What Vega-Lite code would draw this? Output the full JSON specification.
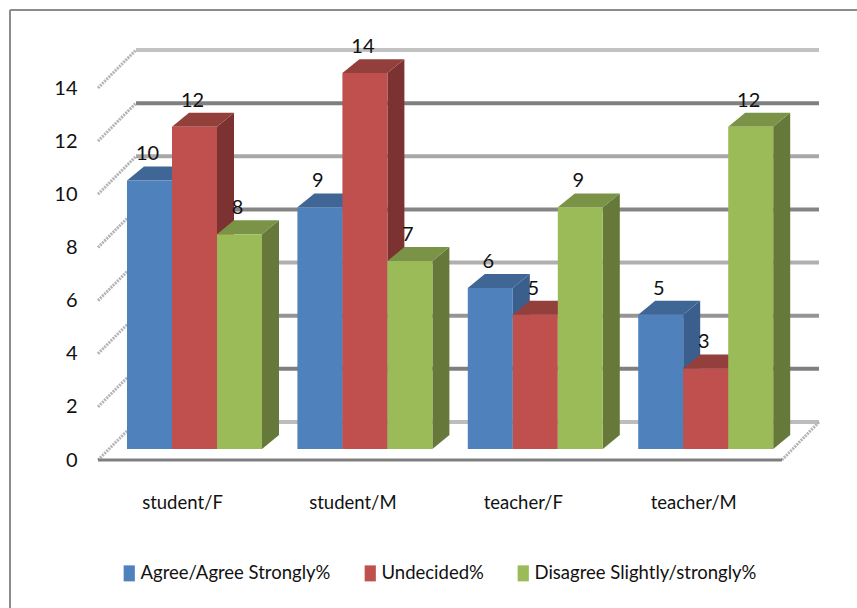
{
"$schema":"https://vega.github.io/schema/vega-lite/v6.json",
"width":847,"height":598,"autosize":"none",
"padding":{"left":10,"top":10,"right":0,"bottom":0},
"background":"white",
"config":{"view":{"stroke":null},"font":"Lato","text":{"font":"Lato"}},
"datasets":{
"bars":[
{"category":"student/F","series":"Agree/Agree Strongly%","value":10},
{"category":"student/F","series":"Undecided%","value":12},
{"category":"student/F","series":"Disagree Slightly/strongly%","value":8},
{"category":"student/M","series":"Agree/Agree Strongly%","value":9},
{"category":"student/M","series":"Undecided%","value":14},
{"category":"student/M","series":"Disagree Slightly/strongly%","value":7},
{"category":"teacher/F","series":"Agree/Agree Strongly%","value":6},
{"category":"teacher/F","series":"Undecided%","value":5},
{"category":"teacher/F","series":"Disagree Slightly/strongly%","value":9},
{"category":"teacher/M","series":"Agree/Agree Strongly%","value":5},
{"category":"teacher/M","series":"Undecided%","value":3},
{"category":"teacher/M","series":"Disagree Slightly/strongly%","value":12}
],
"levels":[{"v":0},{"v":2},{"v":4},{"v":6},{"v":8},{"v":10},{"v":12},{"v":14}]
},
"resolve":{"scale":{"y":"independent","color":"independent"},"axis":{"y":"independent"}},
"layer":[
{"data":{"name":"levels"},
 "transform":[{"calculate":"datum.v+1.43","as":"yb"},{"calculate":"136","as":"x0"},{"calculate":"819","as":"x1"}],
 "mark":{"type":"rule","strokeWidth":4},
 "encoding":{
  "x":{"field":"x0","type":"quantitative","scale":{"domain":[10,857],"nice":false,"zero":false},"axis":null},
  "x2":{"field":"x1"},
  "y":{"field":"yb","type":"quantitative","scale":{"domain":[-5.57,16.936],"nice":false,"zero":false},"axis":null},
  "color":{"field":"v","type":"ordinal","legend":null,"scale":{"domain":[0,2,4,6,8,10,12,14],"range":["#bdbdbd","#7f7f7f","#959595","#b0b0b0","#858585","#a8a8a8","#7f7f7f","#c2c2c2"]}}
 }},
{"data":{"name":"levels"},
 "mark":{"type":"text","opacity":0},
 "encoding":{
  "x":{"datum":10,"type":"quantitative","scale":{"domain":[10,857],"nice":false,"zero":false},"axis":null},
  "y":{"field":"v","type":"quantitative","scale":{"domain":[-5.57,16.936],"nice":false,"zero":false},
   "axis":{"orient":"left","offset":-67,"values":[0,2,4,6,8,10,12,14],"domain":false,"ticks":false,"grid":false,"title":null,"labelFont":"Lato","labelFontSize":20,"labelColor":"#111111","labelPadding":0}},
  "text":{"value":""}
 }},
{"data":{"name":"levels"},
 "transform":[{"calculate":"[0,1]","as":"t"},{"flatten":["t"]},{"calculate":"98+38*datum.t","as":"xd"},{"calculate":"datum.v+1.43*datum.t","as":"yd"}],
 "mark":{"type":"line","stroke":"#b4b4b4","strokeWidth":3,"strokeDash":[2,1]},
 "encoding":{
  "x":{"field":"xd","type":"quantitative","scale":{"domain":[10,857],"nice":false,"zero":false},"axis":null},
  "y":{"field":"yd","type":"quantitative","scale":{"domain":[-5.57,16.936],"nice":false,"zero":false},"axis":null},
  "detail":{"field":"v"}
 }},
{"data":{"name":"levels"},
 "transform":[{"filter":"datum.v==0"},{"calculate":"[0,1]","as":"t"},{"flatten":["t"]},{"calculate":"782+37*datum.t","as":"xd"},{"calculate":"1.43*datum.t","as":"yd"}],
 "mark":{"type":"line","stroke":"#b4b4b4","strokeWidth":3,"strokeDash":[2,1]},
 "encoding":{
  "x":{"field":"xd","type":"quantitative","scale":{"domain":[10,857],"nice":false,"zero":false},"axis":null},
  "y":{"field":"yd","type":"quantitative","scale":{"domain":[-5.57,16.936],"nice":false,"zero":false},"axis":null}
 }},
{"data":{"name":"levels"},
 "transform":[{"filter":"datum.v==0"},{"calculate":"98","as":"x0"},{"calculate":"782","as":"x1"}],
 "mark":{"type":"rule","stroke":"#7f7f7f","strokeWidth":3},
 "encoding":{
  "x":{"field":"x0","type":"quantitative","scale":{"domain":[10,857],"nice":false,"zero":false},"axis":null},
  "x2":{"field":"x1"},
  "y":{"field":"v","type":"quantitative","scale":{"domain":[-5.57,16.936],"nice":false,"zero":false},"axis":null}
 }},
{"data":{"name":"levels"},
 "transform":[{"filter":"datum.v==0"},{"calculate":"10","as":"x0"}],
 "mark":{"type":"rule","stroke":"#8c8c8c","strokeWidth":2},
 "encoding":{
  "x":{"field":"x0","type":"quantitative","scale":{"domain":[10,857],"nice":false,"zero":false},"axis":null}
 }},
{"data":{"name":"levels"},
 "transform":[{"filter":"datum.v==0"},{"calculate":"16.936","as":"yt"}],
 "mark":{"type":"rule","stroke":"#8c8c8c","strokeWidth":2},
 "encoding":{
  "y":{"field":"yt","type":"quantitative","scale":{"domain":[-5.57,16.936],"nice":false,"zero":false},"axis":null}
 }},
{"data":{"name":"bars"},
 "transform":[
  {"calculate":"indexof(['student/F','student/M','teacher/F','teacher/M'],datum.category)","as":"i"},
  {"calculate":"indexof(['Agree/Agree Strongly%','Undecided%','Disagree Slightly/strongly%'],datum.series)","as":"s"},
  {"calculate":"127+170.4*datum.i+45*(datum.s+1)","as":"xr"},
  {"calculate":"[0,1]","as":"t"},{"flatten":["t"]},
  {"calculate":"datum.xr+17*datum.t","as":"xs"},
  {"calculate":"datum.value+0.52*datum.t","as":"y1"},
  {"calculate":"0.52*datum.t","as":"y0"}
 ],
 "mark":{"type":"area","line":false},
 "encoding":{
  "x":{"field":"xs","type":"quantitative","scale":{"domain":[10,857],"nice":false,"zero":false},"axis":null},
  "y":{"field":"y1","type":"quantitative","stack":null,"scale":{"domain":[-5.922,16.35],"nice":false,"zero":false},"axis":null},
  "y2":{"field":"y0"},
  "detail":{"field":"category"},
  "color":{"field":"series","type":"nominal","legend":null,"scale":{"domain":["Agree/Agree Strongly%","Undecided%","Disagree Slightly/strongly%"],"range":["#3a5f8c","#7c3230","#66793a"]}}
 }},
{"data":{"name":"bars"},
 "transform":[
  {"calculate":"indexof(['student/F','student/M','teacher/F','teacher/M'],datum.category)","as":"i"},
  {"calculate":"indexof(['Agree/Agree Strongly%','Undecided%','Disagree Slightly/strongly%'],datum.series)","as":"s"},
  {"calculate":"127+170.4*datum.i+45*datum.s","as":"xl"},
  {"calculate":"[0,1,2,3]","as":"t"},{"flatten":["t"]},
  {"calculate":"datum.xl+[0,17,45,62][datum.t]","as":"xa"},
  {"calculate":"datum.value+[0,0.52,0.52,0.52][datum.t]","as":"y1"},
  {"calculate":"datum.value+[0,0,0,0.52][datum.t]","as":"y0"}
 ],
 "mark":{"type":"area"},
 "encoding":{
  "x":{"field":"xa","type":"quantitative","scale":{"domain":[10,857],"nice":false,"zero":false},"axis":null},
  "y":{"field":"y1","type":"quantitative","stack":null,"scale":{"domain":[-5.922,16.35],"nice":false,"zero":false},"axis":null},
  "y2":{"field":"y0"},
  "detail":{"field":"category"},
  "color":{"field":"series","type":"nominal","legend":null,"scale":{"domain":["Agree/Agree Strongly%","Undecided%","Disagree Slightly/strongly%"],"range":["#3f6695","#93403d","#7a9346"]}}
 }},
{"data":{"name":"bars"},
 "transform":[
  {"calculate":"indexof(['student/F','student/M','teacher/F','teacher/M'],datum.category)","as":"i"},
  {"calculate":"indexof(['Agree/Agree Strongly%','Undecided%','Disagree Slightly/strongly%'],datum.series)","as":"s"},
  {"calculate":"127+170.4*datum.i+45*datum.s","as":"xl"},
  {"calculate":"datum.xl+45","as":"xr"},
  {"calculate":"0","as":"base"}
 ],
 "mark":{"type":"rect"},
 "encoding":{
  "x":{"field":"xl","type":"quantitative","scale":{"domain":[10,857],"nice":false,"zero":false},"axis":null},
  "x2":{"field":"xr"},
  "y":{"field":"value","type":"quantitative","scale":{"domain":[-5.922,16.35],"nice":false,"zero":false},"axis":null},
  "y2":{"field":"base"},
  "color":{"field":"series","type":"nominal","scale":{"domain":["Agree/Agree Strongly%","Undecided%","Disagree Slightly/strongly%"],"range":["#4f81bd","#c0504d","#9bbb59"]},
   "legend":{"title":null,"orient":"none","direction":"horizontal","legendX":110,"legendY":554,"symbolType":"M-0.7,-1H0.7V1H-0.7Z","symbolSize":256,"symbolStrokeWidth":0,"labelFont":"Lato","labelFontSize":18.5,"labelColor":"#111111","labelOffset":2,"columnPadding":30,"labelLimit":300}}
 }},
{"data":{"name":"bars"},
 "transform":[
  {"calculate":"indexof(['student/F','student/M','teacher/F','teacher/M'],datum.category)","as":"i"},
  {"calculate":"indexof(['Agree/Agree Strongly%','Undecided%','Disagree Slightly/strongly%'],datum.series)","as":"s"},
  {"calculate":"127+170.4*datum.i+45*datum.s+20.5","as":"xt"}
 ],
 "mark":{"type":"text","font":"Lato","fontSize":20,"fill":"#111111","dy":-26,"baseline":"middle","align":"center"},
 "encoding":{
  "x":{"field":"xt","type":"quantitative","scale":{"domain":[10,857],"nice":false,"zero":false},"axis":null},
  "y":{"field":"value","type":"quantitative","scale":{"domain":[-5.922,16.35],"nice":false,"zero":false},"axis":null},
  "text":{"field":"value","type":"quantitative"}
 }},
{"data":{"name":"bars"},
 "transform":[
  {"filter":"datum.series=='Undecided%'"},
  {"calculate":"indexof(['student/F','student/M','teacher/F','teacher/M'],datum.category)","as":"i"},
  {"calculate":"182.5+170.4*datum.i","as":"xc"},
  {"calculate":"-1.6","as":"yc"}
 ],
 "mark":{"type":"text","font":"Lato","fontSize":18.5,"fill":"#111111","baseline":"middle","align":"center"},
 "encoding":{
  "x":{"field":"xc","type":"quantitative","scale":{"domain":[10,857],"nice":false,"zero":false},"axis":null},
  "y":{"field":"yc","type":"quantitative","scale":{"domain":[-5.57,16.936],"nice":false,"zero":false},"axis":null},
  "text":{"field":"category","type":"nominal"}
 }}
]
}
